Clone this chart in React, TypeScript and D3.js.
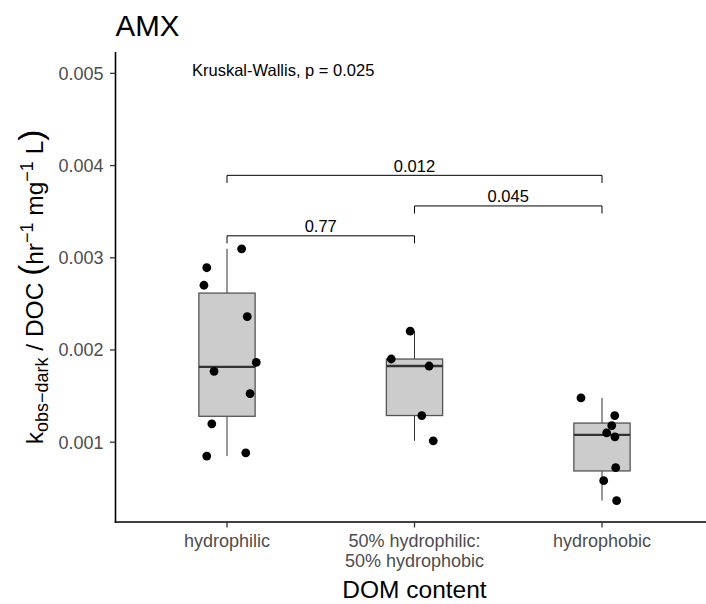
import React from "react";
import * as d3 from "d3";

const categories = ["hydrophilic", "50% hydrophilic:\n50% hydrophobic", "hydrophobic"];
const hydrophilicValues = [0.003097, 0.002892, 0.002702, 0.002362, 0.001865, 0.001768, 0.001526, 0.001199, 0.000885, 0.000849];
const hydrophilicJitter = [0.078, -0.108, -0.123, 0.108, 0.156, -0.069, 0.123, -0.081, 0.1, -0.108];
const mixedValues = [0.002204, 0.001902, 0.001826, 0.001289, 0.001015];
const mixedJitter = [-0.023, -0.124, 0.078, 0.039, 0.1];
const hydrophobicValues = [0.00148, 0.001289, 0.00118, 0.0011, 0.001058, 0.000723, 0.000583, 0.000366];
const hydrophobicJitter = [-0.112, 0.068, 0.052, 0.025, 0.069, 0.073, 0.009, 0.078];
const yTicks = [0.001, 0.002, 0.003, 0.004, 0.005];
const compFrom = [0, 1, 0];
const compTo = [1, 2, 2];
const compY = [0.003238, 0.003562, 0.003894];
const compLabel = ["0.77", "0.045", "0.012"];
const kwLabel = "Kruskal-Wallis, p = 0.025";
const kwY = 0.005;
const title = "AMX";

const groups = [
  { values: hydrophilicValues, jitter: hydrophilicJitter },
  { values: mixedValues, jitter: mixedJitter },
  { values: hydrophobicValues, jitter: hydrophobicJitter },
];

const W = 706, H = 604;
const left = 114.5, right = 714.5, top = 52, bottom = 522;
const FONT = "'Liberation Sans', Arial, Helvetica, sans-serif";

export default function App() {
  const x = d3.scalePoint<string>().domain(categories).range([left, right]).padding(0.6);
  const step = x.step();
  const allVals = groups.flatMap((g) => g.values).concat([kwY]);
  const lo = d3.min(allVals)!, hi = d3.max(allVals)!;
  const pad = (hi - lo) * 0.05;
  const y = d3.scaleLinear().domain([lo - pad, hi + pad]).range([bottom, top]);
  const tipLen = 0.000082;
  const boxW = 0.3 * step;

  return (
    <svg width={W} height={H} style={{ position: "absolute", left: 0, top: 0, background: "#fff" }} fontFamily={FONT}>
      <rect width={W} height={H} fill="#fff" />
      <text x={115.5} y={36} fontSize={29.5} fill="#000">{title}</text>
      {groups.map((g, i) => {
        const cx = x(categories[i])!;
        const s = [...g.values].sort(d3.ascending);
        const q1 = d3.quantile(s, 0.25)!, med = d3.quantile(s, 0.5)!, q3 = d3.quantile(s, 0.75)!;
        const iqr = q3 - q1;
        const wLo = d3.min(s.filter((v) => v >= q1 - 1.5 * iqr))!;
        const wHi = d3.max(s.filter((v) => v <= q3 + 1.5 * iqr))!;
        return (
          <g key={"b" + i}>
            <line x1={cx} x2={cx} y1={y(q3)} y2={y(wHi)} stroke="#333" strokeWidth={1} />
            <line x1={cx} x2={cx} y1={y(q1)} y2={y(wLo)} stroke="#333" strokeWidth={1} />
            <rect x={cx - boxW / 2} y={y(q3)} width={boxW} height={y(q1) - y(q3)} fill="#cccccc" stroke="#555" strokeWidth={1.3} />
            <line x1={cx - boxW / 2} x2={cx + boxW / 2} y1={y(med)} y2={y(med)} stroke="#333" strokeWidth={2.4} />
          </g>
        );
      })}
      {groups.map((g, i) =>
        g.values.map((v, j) => (
          <circle key={"p" + i + "-" + j} cx={x(categories[i])! + g.jitter[j] * step} cy={y(v)} r={4.4} fill="#000" />
        ))
      )}
      {compFrom.map((f, i) => {
        const x1 = x(categories[f])!, x2 = x(categories[compTo[i]])!;
        const yy = y(compY[i]), yt = y(compY[i] - tipLen);
        return (
          <g key={"c" + i}>
            <path d={`M${x1},${yt}V${yy}H${x2}V${yt}`} fill="none" stroke="#000" strokeWidth={1} />
            <text x={(x1 + x2) / 2} y={yy - 3.5} textAnchor="middle" fontSize={16.5} fill="#000">{compLabel[i]}</text>
          </g>
        );
      })}
      <text x={192} y={y(kwY) + 2.5} fontSize={16.5} fill="#000">{kwLabel}</text>
      <line x1={115.5} x2={115.5} y1={top} y2={bottom + 0.75} stroke="#000" strokeWidth={1.6} />
      <line x1={115.5 - 0.8} x2={W} y1={bottom} y2={bottom} stroke="#000" strokeWidth={1.6} />
      {yTicks.map((t) => (
        <g key={"yt" + t}>
          <line x1={110} x2={115.5} y1={y(t)} y2={y(t)} stroke="#333" strokeWidth={1.3} />
          <text x={103.5} y={y(t)} dy="0.36em" textAnchor="end" fontSize={18} fill="#4d4d4d">{t.toFixed(3)}</text>
        </g>
      ))}
      {categories.map((c) => {
        const cx = x(c)!;
        const lines = c.split("\n");
        return (
          <g key={"xt" + c}>
            <line x1={cx} x2={cx} y1={bottom} y2={bottom + 5.5} stroke="#333" strokeWidth={1.3} />
            {lines.map((ln, k) => (
              <text key={k} x={cx} y={547 + k * 20} textAnchor="middle" fontSize={18} fill="#4d4d4d">{ln}</text>
            ))}
          </g>
        );
      })}
      <text x={(left + right) / 2} y={598} textAnchor="middle" fontSize={24.5} fill="#000">DOM content</text>
      <text transform={`translate(43, ${(top + bottom) / 2}) rotate(-90)`} textAnchor="middle" fontSize={24.5} fill="#000">
        <tspan>k</tspan>
        <tspan fontSize={18} dy={5}>obs−dark</tspan>
        <tspan dy={-5}> / DOC </tspan>
        <tspan fontSize={33} dy={-1}>(</tspan>
        <tspan dy={1}>hr</tspan>
        <tspan fontSize={18} dy={-10}>−1</tspan>
        <tspan dy={10}> mg</tspan>
        <tspan fontSize={18} dy={-10}>−1</tspan>
        <tspan dy={10}> L</tspan>
        <tspan fontSize={33} dy={-1}>)</tspan>
      </text>
    </svg>
  );
}
